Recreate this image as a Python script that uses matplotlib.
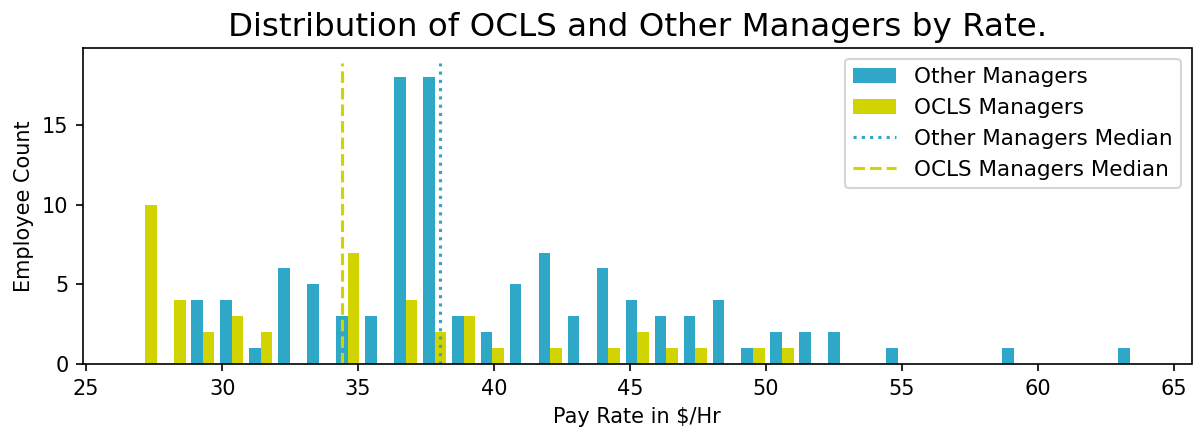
import numpy as np
import matplotlib
matplotlib.use("Agg")
import matplotlib.pyplot as plt

# Histogram bins (35 equal bins)
bin_start = 26.63
bin_end = 63.90
n_bins = 35

# Counts per bin
other_counts = [0, 0, 4, 4, 1, 6, 5, 3, 3, 18, 18, 3, 2, 5, 7, 3, 6, 4, 3, 3,
                4, 1, 2, 2, 2, 0, 1, 0, 0, 0, 1, 0, 0, 0, 1]
ocls_counts = [10, 4, 2, 3, 2, 0, 0, 7, 0, 4, 2, 3, 1, 0, 1, 0, 1, 2, 1, 1,
               0, 1, 1, 0, 0, 0, 0, 0, 0, 0, 0, 0, 0, 0, 0]

other_median = 38.0
ocls_median = 34.4

labels = ["Other Managers", "OCLS Managers"]
median_labels = ["Other Managers Median", "OCLS Managers Median"]
blue = "#2fa8c8"
yellow = "#d1d400"

edges = np.linspace(bin_start, bin_end, n_bins + 1)
centers = (edges[:-1] + edges[1:]) / 2

fig = plt.figure(figsize=(1193 / 150, 434 / 150), dpi=150)
ax = fig.add_axes([83 / 1193, 70 / 434, (1191.5 - 83) / 1193, (364 - 48) / 434])

ax.hist([centers, centers], bins=edges, weights=[other_counts, ocls_counts],
        color=[blue, yellow], label=labels)
ytop = ax.get_ylim()[1]
ax.plot([other_median, other_median], [0, ytop], linestyle=":", color=blue,
        lw=1.5, label=median_labels[0])
ax.plot([ocls_median, ocls_median], [0, ytop], linestyle="--", color=yellow,
        lw=1.5, label=median_labels[1])

ax.set_title("Distribution of OCLS and Other Managers by Rate.", fontsize=15.6)
ax.set_xlabel("Pay Rate in $/Hr")
ax.set_ylabel("Employee Count")
ax.set_yticks([0, 5, 10, 15])
ax.legend(fontsize=10.3)

fig.savefig("out.png", dpi=150)
